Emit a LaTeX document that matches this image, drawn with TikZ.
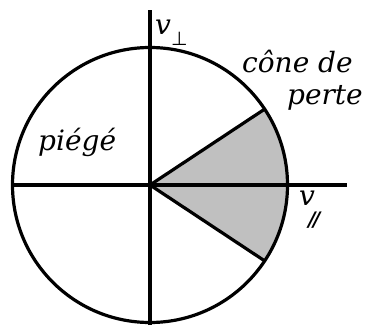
\documentclass[tikz,border=0pt]{standalone}
\usepackage{fontspec}
\newfontfamily\lblfont{DejaVu Serif}
\newfontfamily\symfont{DejaVu Sans}
\begin{document}
\begin{tikzpicture}[x=1pt,y=1pt,
  axis/.style={line width=3.8pt},
  rim/.style={line width=3.2pt},
  lbl/.style={inner sep=0pt, font=\lblfont\fontsize{28}{30}\selectfont\itshape}]
\useasboundingbox (0,0) rectangle (366,325);
\coordinate (O) at (150,140);
% loss cone
\fill[fill={rgb,255:red,192;green,192;blue,192}] (O) -- ++(33.5:136.5) arc[start angle=33.5,end angle=-33.5,radius=136.5] -- cycle;
\draw[rim] (O) -- ++(33.5:136.5) coordinate (A);
\draw[rim] (O) -- ++(-33.5:136.5) coordinate (B);
\draw[rim] (O) circle[radius=137.5];
% axes
\coordinate (xl) at (12,140);
\coordinate (xr) at (347,140);
\coordinate (yt) at (150,315);
\coordinate (yb) at (150,0);
\draw[axis] (xl) -- (xr);
\draw[axis] (yb) -- (yt);
% labels
\node[lbl, anchor=base west] (pg) at (38,175) {pi\'eg\'e};
\node[lbl, anchor=base west] (cd) at (242,253) {c\^one de};
\node[lbl, anchor=base east] (pe) at (363,221) {perte};
\node[lbl, anchor=base west] (vp) at (155,291) {v\raisebox{-11pt}{\symfont\upshape\fontsize{19}{20}\selectfont ⊥}};
\node[lbl, anchor=base west] (vl) at (299,120) {v\kern-7pt\raisebox{-21pt}{\bfseries\fontsize{20}{22}\selectfont /\kern-0.12em/}};
\end{tikzpicture}
\end{document}
